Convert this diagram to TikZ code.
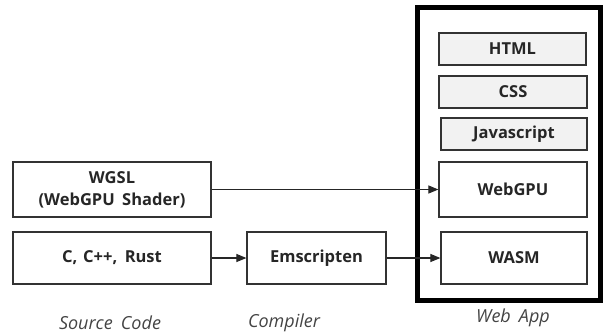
\documentclass[tikz,border=0pt]{standalone}
\usepackage{fontspec}
\setmainfont{Open Sans}
\usetikzlibrary{arrows.meta}
\definecolor{edge}{HTML}{333333}
\definecolor{lightfill}{HTML}{F2F2F2}
\definecolor{labelgray}{HTML}{444444}
\tikzset{
  box/.style={draw=edge, line width=1.2pt, fill=white, inner sep=0pt, align=center, font=\fontsize{16.5}{20}\selectfont, text=black!85},
  greybox/.style={box, fill=lightfill},
  conn/.style={line width=1.1pt, draw=black!85, -{Triangle[length=10pt,width=8pt]}},
  caption/.style={font=\fontsize{18}{21}\selectfont\itshape, text=labelgray}
}
\begin{document}
\begin{tikzpicture}[x=1pt,y=-1pt]
\useasboundingbox (0,0) rectangle (608,335);
\draw[line width=5pt, black] (417.5,7.5) rectangle (600.5,300.5);
\node[greybox, minimum width=147pt, minimum height=32pt] (html) at (512.5,49) {\bfseries HTML};
\node[greybox, minimum width=148pt, minimum height=32pt] (css) at (513,92) {\bfseries CSS};
\node[greybox, minimum width=146pt, minimum height=32pt] (js) at (514,134) {\bfseries Javascript};
\node[box, minimum width=148pt, minimum height=55pt] (webgpu) at (513,189.5) {\bfseries WebGPU};
\node[box, minimum width=146pt, minimum height=52pt] (wasm) at (514,258) {\bfseries WASM};
\node[box, minimum width=198pt, minimum height=55pt, font=\fontsize{16.5}{22}\selectfont] (wgsl) at (112,189.5) {\bfseries WGSL\\\bfseries(WebGPU\hspace{0.45em}Shader)};
\node[box, minimum width=198pt, minimum height=52pt] (src) at (112,258) {\bfseries C,\hspace{0.35em}C++,\hspace{0.45em}Rust};
\node[box, minimum width=139pt, minimum height=52pt] (ems) at (316.5,258) {\bfseries Emscripten};
\draw[conn] (wgsl.east) -- (webgpu.west);
\draw[conn] (src.east) -- (ems.west);
\draw[conn] (ems.east) -- (wasm.west);
\node[caption] (capsrc) at (110,323) {Source\hspace{0.45em}Code};
\node[caption] (capcomp) at (284,323) {Compiler};
\node[caption] (capweb) at (513,318) {Web\hspace{0.45em}App};
\end{tikzpicture}
\end{document}
